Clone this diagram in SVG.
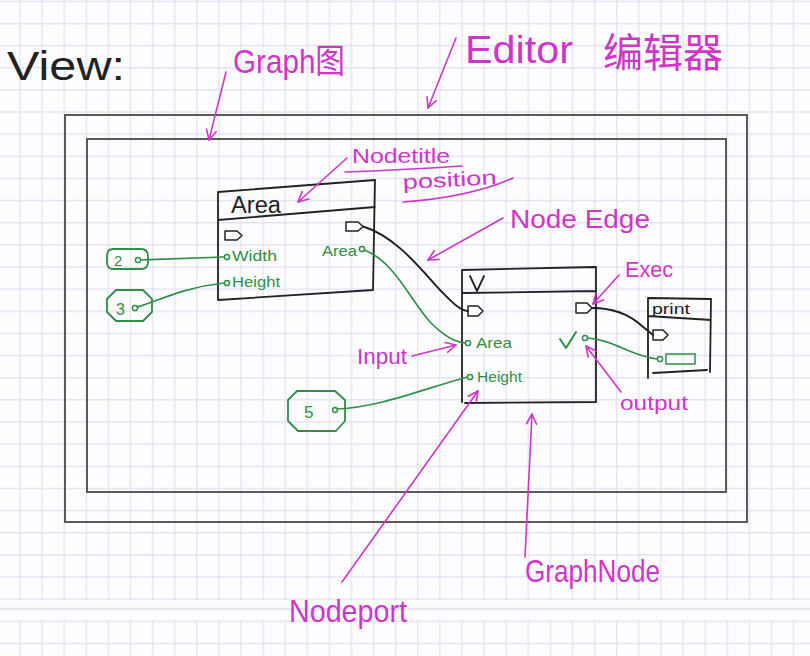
<svg xmlns="http://www.w3.org/2000/svg" width="810" height="656" viewBox="0 0 810 656">
<defs>
<pattern id="grid" patternUnits="userSpaceOnUse" x="19.3" y="111.3" width="22.1" height="22.14">
<path d="M0.7 0 V22.14 M0 0.7 H22.1" stroke="#e3e3f0" stroke-width="1.3" fill="none"/>
</pattern>
<marker id="ah" viewBox="0 0 12 12" refX="11" refY="6" markerWidth="12" markerHeight="12" markerUnits="userSpaceOnUse" orient="auto">
<path d="M1 1 L11 6 L1 11" fill="none" stroke="#cf35c8" stroke-width="1.6" stroke-linecap="round" stroke-linejoin="round"/>
</marker>
</defs>
<style>
.ink{fill:none;stroke:#222;stroke-width:1.8;stroke-linecap:round;stroke-linejoin:round}
.frame{fill:none;stroke:#5a5a5a;stroke-width:2}
.gw{fill:none;stroke:#2f8f46;stroke-width:1.7;stroke-linecap:round}
.bw{fill:none;stroke:#1e1e1e;stroke-width:1.9;stroke-linecap:round}
.port{fill:#fff;stroke:#2f8f46;stroke-width:1.5}
.ex{fill:#fff;stroke:#222;stroke-width:1.5;stroke-linejoin:round}
.mg{fill:none;stroke:#cf35c8;stroke-width:1.6;stroke-linecap:round}
.tm{fill:#cf35c8;font-family:"Liberation Sans","Noto Sans CJK SC",sans-serif}
.tg{fill:#2f8f46;font-family:"Liberation Sans",sans-serif}
.tk{fill:#222;font-family:"Liberation Sans",sans-serif}
</style>
<rect width="810" height="656" fill="#fdfdff"/>
<rect width="810" height="656" fill="url(#grid)"/>
<rect x="0" y="600" width="810" height="20" fill="#fdfdff"/>
<line x1="0" y1="609" x2="810" y2="609" stroke="#e6e6ec" stroke-width="2.5"/>

<g id="editor-frame"><rect class="frame" x="65" y="115" width="682" height="407"/></g>
<g id="graph-frame"><rect class="frame" x="87" y="139" width="639" height="353"/></g>

<g id="labels">
<text class="tk" x="7" y="80" font-size="40" textLength="118" lengthAdjust="spacingAndGlyphs">View:</text>
<text class="tm" x="233" y="73" font-size="34" textLength="112" lengthAdjust="spacingAndGlyphs">Graph图</text>
<text class="tm" x="465" y="63" font-size="38" textLength="108" lengthAdjust="spacingAndGlyphs">Editor</text>
<text class="tm" x="603" y="67" font-size="40" textLength="120" lengthAdjust="spacingAndGlyphs">编辑器</text>
<text class="tm" x="352" y="163" font-size="20" textLength="98" lengthAdjust="spacingAndGlyphs">Nodetitle</text>
<text class="tm" x="403" y="189" font-size="20" textLength="94" lengthAdjust="spacingAndGlyphs" transform="rotate(-3 403 189)">position</text>
<text class="tm" x="510" y="228" font-size="26" textLength="140" lengthAdjust="spacingAndGlyphs">Node Edge</text>
<text class="tm" x="625" y="277" font-size="22" textLength="48" lengthAdjust="spacingAndGlyphs">Exec</text>
<text class="tm" x="357" y="364" font-size="22" textLength="50" lengthAdjust="spacingAndGlyphs">Input</text>
<text class="tm" x="620" y="410" font-size="21" textLength="68" lengthAdjust="spacingAndGlyphs">output</text>
<text class="tm" x="289" y="622" font-size="32" textLength="118" lengthAdjust="spacingAndGlyphs">Nodeport</text>
<text class="tm" x="525" y="582" font-size="32" textLength="135" lengthAdjust="spacingAndGlyphs">GraphNode</text>
<path class="mg" d="M345 172 Q400 170 462 166"/>
<path class="mg" d="M403 202 Q470 197 513 178"/>
</g>

<g id="node-area">
<path class="ink" d="M218 192 L375 180 M218 220 L375 207 M218 192 L218 300 M375 180 L373 290 M218 300 L373 290"/>
<text class="tk" x="231" y="213" font-size="23" textLength="50" lengthAdjust="spacingAndGlyphs">Area</text>
<path class="ex" d="M225 231 H237 L242 235.5 L237 240 H225 Z"/>
<path class="ex" d="M346 222 H358 L363 226.5 L358 231 H346 Z"/>
<circle class="port" cx="227" cy="257" r="2.6"/>
<text class="tg" x="232" y="261" font-size="14" textLength="45" lengthAdjust="spacingAndGlyphs">Width</text>
<circle class="port" cx="227" cy="283" r="2.6"/>
<text class="tg" x="232" y="287" font-size="15" textLength="48" lengthAdjust="spacingAndGlyphs">Height</text>
<text class="tg" x="322" y="256" font-size="15" textLength="35" lengthAdjust="spacingAndGlyphs">Area</text>
<circle class="port" cx="362" cy="249" r="2.6"/>
</g>

<g id="node-v">
<path class="ink" d="M462 270 L596 267 M462 293 L596 291 M462 270 L462 402 M596 267 L596 402 M465 403 L596 402"/>
<path class="ink" d="M470 276 L477 291 L484 276"/>
<path class="ex" d="M468 306 H478 L483 311 L478 316 H468 Z"/>
<path class="ex" d="M576 303 H587 L592 308 L587 313 H576 Z"/>
<circle class="port" cx="468" cy="343" r="2.6"/>
<text class="tg" x="476" y="348" font-size="15" textLength="36" lengthAdjust="spacingAndGlyphs">Area</text>
<circle class="port" cx="470" cy="377" r="2.6"/>
<text class="tg" x="477" y="382" font-size="15" textLength="45" lengthAdjust="spacingAndGlyphs">Height</text>
<path d="M560 339 L566 348 L576 332" fill="none" stroke="#2f8f46" stroke-width="2" stroke-linecap="round" stroke-linejoin="round"/>
<circle class="port" cx="585" cy="338" r="2.6"/>
</g>

<g id="node-print">
<path class="ink" d="M648 298 L711 299 M648 316 L711 320 M648 298 L648 378 M711 299 L710 372 M653 373 L707 370"/>
<text class="tk" x="652" y="314" font-size="14" textLength="38" lengthAdjust="spacingAndGlyphs">print</text>
<path class="ex" d="M653 330 H663 L668 335 L663 340 H653 Z"/>
<circle class="port" cx="660" cy="359" r="2.6"/>
<rect x="666" y="354" width="29" height="10" fill="none" stroke="#2f8f46" stroke-width="1.5"/>
</g>

<g id="value-20">
<path d="M113 249 H141 Q148 249 148 256 V262 Q148 269 141 269 H113 Q107 269 107 262 V256 Q107 249 113 249 Z" fill="none" stroke="#2f8f46" stroke-width="1.8"/>
<text class="tg" x="114" y="266" font-size="15">2</text>
<circle class="port" cx="138" cy="260" r="2.6"/>
</g>
<g id="value-30">
<path d="M116 290 H143 L152 299 V312 L143 321 H116 L107 312 V299 Z" fill="none" stroke="#2f8f46" stroke-width="1.8" stroke-linejoin="round"/>
<text class="tg" x="116" y="315" font-size="16">3</text>
<circle class="port" cx="135" cy="308" r="2.6"/>
</g>
<g id="value-5">
<path d="M297 391 H335 L345 400 V421 L336 431 H298 L288 421 V400 Z" fill="none" stroke="#2f8f46" stroke-width="1.8" stroke-linejoin="round"/>
<text class="tg" x="304" y="418" font-size="17">5</text>
<circle class="port" cx="335" cy="410" r="2.4"/>
</g>

<g id="connectors">
<path class="gw" d="M140.6 260 C170 259 200 258 224.4 257"/>
<path class="gw" d="M137.5 307 C160 300 185 287 224.4 283"/>
<path class="gw" d="M337.4 409 C380 407 420 390 467.4 377"/>
<path class="bw" d="M363 226.5 C395 236 420 268 440 290 C452 302 460 311 468 311"/>
<path class="gw" d="M364.4 250 C395 262 410 300 430 322 C445 337 455 342 465.4 343"/>
<path class="bw" d="M592 308 C615 308 630 315 642 326 L653 335"/>
<path class="gw" d="M587.5 338 C615 340 630 356 657.4 359"/>
<path class="mg" marker-end="url(#ah)" d="M226 72 L209 140"/>
<path class="mg" marker-end="url(#ah)" d="M456 38 L428 108"/>
<path class="mg" marker-end="url(#ah)" d="M347 158 L298 202"/>
<path class="mg" marker-end="url(#ah)" d="M503 218 L428 260"/>
<path class="mg" marker-end="url(#ah)" d="M619 275 L593 304"/>
<path class="mg" marker-end="url(#ah)" d="M412 356 L456 345"/>
<path class="mg" marker-end="url(#ah)" d="M621 392 L586 346"/>
<path class="mg" marker-end="url(#ah)" d="M342 582 L478 391"/>
<path class="mg" marker-end="url(#ah)" d="M525 557 L532 414"/>
</g>
</svg>
